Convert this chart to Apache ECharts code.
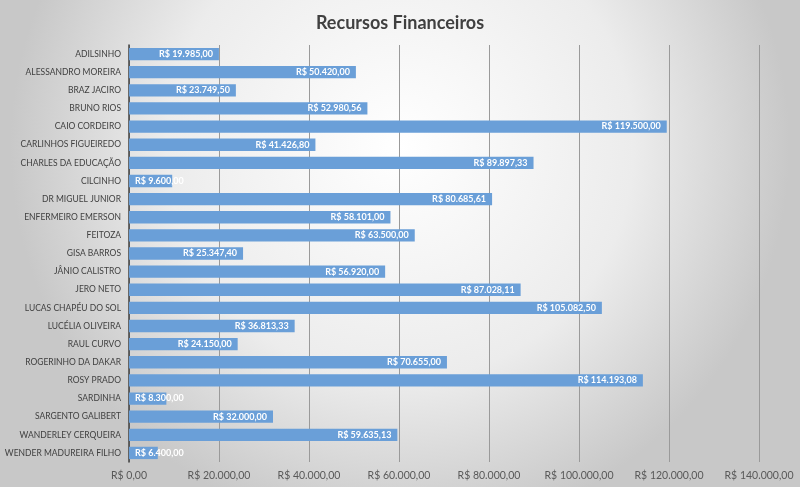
<!DOCTYPE html>
<html><head><meta charset="utf-8">
<script src="https://cdn.jsdelivr.net/npm/echarts@6/dist/echarts.min.js"></script>
<style>html,body{margin:0;padding:0;}#c{width:800px;height:487px;}</style>
</head><body><div id="c"></div>
<script>
const categories = ["ADILSINHO","ALESSANDRO MOREIRA","BRAZ JACIRO","BRUNO RIOS","CAIO CORDEIRO","CARLINHOS FIGUEIREDO","CHARLES DA EDUCAÇÃO","CILCINHO","DR MIGUEL JUNIOR","ENFERMEIRO EMERSON","FEITOZA","GISA BARROS","JÂNIO CALISTRO","JERO NETO","LUCAS CHAPÉU DO SOL","LUCÉLIA OLIVEIRA","RAUL CURVO","ROGERINHO DA DAKAR","ROSY PRADO","SARDINHA","SARGENTO GALIBERT","WANDERLEY CERQUEIRA","WENDER MADUREIRA FILHO"];
const values = [19985.00,50420.00,23749.50,52980.56,119500.00,41426.80,89897.33,9600.00,80685.61,58101.00,63500.00,25347.40,56920.00,87028.11,105082.50,36813.33,24150.00,70655.00,114193.08,8300.00,32000.00,59635.13,6400.00];
const axisTicks = [0,20000,40000,60000,80000,100000,120000,140000];

function brl(v){
  return 'R$ ' + v.toLocaleString('pt-BR',{minimumFractionDigits:2,maximumFractionDigits:2});
}
const chart = echarts.init(document.getElementById('c'));
const FONT = 'Lato, "Open Sans", sans-serif';
chart.setOption({
  backgroundColor: new echarts.graphic.RadialGradient(0.5,0.3,0.8,[
    {offset:0,color:'#ffffff'},{offset:0.6,color:'#ececec'},{offset:1,color:'#c8c8c8'}]),
  title:{text:'Recursos Financeiros',left:'center',top:9,
    textStyle:{fontFamily:FONT,fontSize:18,fontWeight:'bold',color:'#404040'}},
  grid:{left:129,right:41,top:45,bottom:25,containLabel:false,outerBoundsMode:'none'},
  xAxis:{type:'value',min:axisTicks[0],max:axisTicks[axisTicks.length-1],interval:20000,
    axisLine:{show:false},axisTick:{show:false},
    splitLine:{lineStyle:{color:'#9a9a9a',width:1}},
    axisLabel:{fontFamily:FONT,fontSize:10.5,color:'#595959',margin:8,formatter:v=>brl(v)}},
  yAxis:{type:'category',data:categories,inverse:true,
    axisLine:{show:true,lineStyle:{color:'#404040',width:1.5}},axisTick:{show:false},
    axisLabel:{fontFamily:FONT,fontSize:8.5,color:'#404040',margin:8}},
  series:[{type:'bar',barCategoryGap:'32%',
    data: values.map(v=>({value:v,label:{position: v<12000?'insideLeft':'insideRight'}})),
    itemStyle:{color:'#6a9fd8'},
    label:{show:true,color:'#ffffff',fontFamily:FONT,fontSize:9,fontWeight:'bold',distance:6,
      formatter:p=>brl(p.value)}}]
});
</script></body></html>
